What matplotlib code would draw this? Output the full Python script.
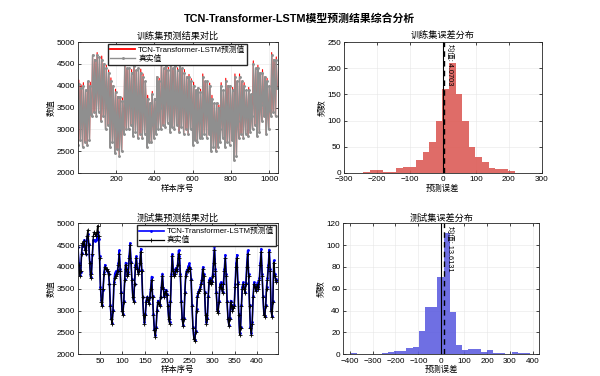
import matplotlib
matplotlib.use("Agg")
import matplotlib.pyplot as plt
import numpy as np

plt.rcParams.update({
    "font.family": ["Liberation Sans", "Noto Sans CJK SC"],
    "font.size": 6,
    "axes.linewidth": 0.6,
    "xtick.direction": "in",
    "ytick.direction": "in",
    "xtick.major.size": 2,
    "ytick.major.size": 2,
    "xtick.major.width": 0.5,
    "ytick.major.width": 0.5,
})

# ---- training set (one value every 4 samples, one row per day) ----
train_true = [
    2650, 4050, 3350, 2750, 3950, 3300,
    2600, 4000, 3300, 2700, 3900, 3250,
    2650, 4100, 3400, 2750, 4000, 3350,
    3300, 4700, 4000, 3400, 4600, 3950,
    3300, 4700, 4000, 3400, 4650, 3950,
    3200, 4600, 3900, 3300, 4500, 3850,
    3000, 4400, 3700, 3100, 4300, 3650,
    2600, 4100, 3350, 2700, 4000, 3300,
    2450, 3850, 3150, 2550, 3750, 3100,
    2400, 3750, 3100, 2500, 3650, 3050,
    2900, 4500, 3700, 3000, 4400, 3650,
    3000, 4400, 3700, 3100, 4300, 3650,
    2850, 4450, 3650, 2950, 4350, 3600,
    2800, 4400, 3600, 2900, 4300, 3550,
    2800, 4200, 3500, 2900, 4100, 3450,
    2600, 3700, 3150, 2700, 3600, 3100,
    2700, 3800, 3250, 2800, 3700, 3200,
    2900, 4200, 3550, 3000, 4100, 3500,
    3000, 4500, 3750, 3100, 4400, 3700,
    3050, 4450, 3750, 3150, 4350, 3700,
    2950, 4500, 3700, 3050, 4400, 3650,
    3000, 4450, 3700, 3100, 4350, 3650,
    2950, 4500, 3700, 3050, 4400, 3650,
    2900, 4300, 3600, 3000, 4200, 3550,
    2900, 4200, 3550, 3000, 4100, 3500,
    2650, 4000, 3300, 2750, 3900, 3250,
    2700, 3950, 3300, 2800, 3850, 3250,
    2800, 4200, 3500, 2900, 4100, 3450,
    2800, 4100, 3450, 2900, 4000, 3400,
    2500, 3700, 3100, 2600, 3600, 3050,
    2500, 3600, 3050, 2600, 3500, 3000,
    2700, 4000, 3350, 2800, 3900, 3300,
    2600, 4100, 3350, 2700, 4000, 3300,
    2650, 4000, 3300, 2750, 3900, 3250,
    2300, 4200, 3250, 2400, 4100, 3200,
    2800, 4200, 3500, 2900, 4100, 3450,
    2800, 4000, 3400, 2900, 3900, 3350,
    2850, 3900, 3350, 2950, 3800, 3300,
    3000, 4500, 3750, 3100, 4400, 3700,
    2850, 4400, 3600, 2950, 4300, 3550,
    3200, 4300, 3750, 3300, 4200, 3700,
    2900, 4100, 3500, 3000, 4000, 3450,
    3300, 4700, 4000, 3400, 4600, 3950,
    3300, 4600, 3950,
]
train_pred = [
    2650, 4130, 3350, 2750, 4020, 3300,
    2600, 4070, 3300, 2700, 3900, 3250,
    2650, 4100, 3400, 2750, 4080, 3350,
    3300, 4700, 4000, 3400, 4600, 3950,
    3300, 4760, 4000, 3400, 4650, 3950,
    3200, 4680, 3900, 3300, 4500, 3850,
    3000, 4470, 3700, 3100, 4360, 3650,
    2600, 4180, 3350, 2700, 4000, 3300,
    2450, 3920, 3150, 2550, 3750, 3100,
    2400, 3750, 3100, 2500, 3720, 3050,
    2900, 4580, 3700, 3000, 4400, 3650,
    3000, 4400, 3700, 3100, 4370, 3650,
    2850, 4520, 3650, 2950, 4350, 3600,
    2800, 4400, 3600, 2900, 4380, 3550,
    2800, 4270, 3500, 2900, 4100, 3450,
    2600, 3780, 3150, 2700, 3600, 3100,
    2700, 3870, 3250, 2800, 3700, 3200,
    2900, 4200, 3550, 3000, 4170, 3500,
    3000, 4560, 3750, 3100, 4400, 3700,
    3050, 4450, 3750, 3150, 4420, 3700,
    2950, 4570, 3700, 3050, 4400, 3650,
    3000, 4450, 3700, 3100, 4410, 3650,
    2950, 4560, 3700, 3050, 4400, 3650,
    2900, 4370, 3600, 3000, 4200, 3550,
    2900, 4260, 3550, 3000, 4160, 3500,
    2650, 4080, 3300, 2750, 3900, 3250,
    2700, 3950, 3300, 2800, 3920, 3250,
    2800, 4270, 3500, 2900, 4100, 3450,
    2800, 4100, 3450, 2900, 4060, 3400,
    2500, 3780, 3100, 2600, 3600, 3050,
    2500, 3600, 3050, 2600, 3560, 3000,
    2700, 4070, 3350, 2800, 3900, 3300,
    2600, 4170, 3350, 2700, 4000, 3300,
    2650, 4000, 3300, 2750, 3960, 3250,
    2300, 4270, 3250, 2400, 4100, 3200,
    2800, 4270, 3500, 2900, 4100, 3450,
    2800, 4070, 3400, 2900, 3900, 3350,
    2850, 3960, 3350, 2950, 3800, 3300,
    3000, 4570, 3750, 3100, 4400, 3700,
    2850, 4470, 3600, 2950, 4300, 3550,
    3200, 4370, 3750, 3300, 4200, 3700,
    2900, 4170, 3500, 3000, 4000, 3450,
    3300, 4760, 4000, 3400, 4600, 3950,
    3300, 4660, 3950,
]

# ---- test set (one value every 2 samples) ----
test_true = [
    4450, 4050, 3800, 3900, 4300, 4550, 4500, 4600, 4400, 4300,
    4700, 4850, 4500, 4100, 3750, 3850, 4300, 4700, 4800, 4750,
    4700, 4800, 4950, 4700, 4200, 3500, 3200, 3100, 3500, 3850,
    4000, 3950, 3950, 3900, 3850, 3600, 3100, 2800, 2700, 3000,
    3600, 3750, 3800, 3850, 3900, 4050, 4300, 3900, 3400, 3000,
    2900, 3200, 3700, 4050, 3950, 3800, 3850, 4200, 4500, 4100,
    3700, 3300, 3200, 3600, 4000, 4200, 3950, 3850, 3900, 4100,
    4350, 3900, 3300, 2900, 2700, 2900, 3200, 3300, 3250, 3150,
    3300, 3500, 3700, 3300, 2900, 2550, 2400, 2600, 3000, 3200,
    3150, 3100, 3300, 3550, 3800, 3500, 3300, 3400, 3450, 3350,
    3100, 2800, 2700, 3200, 3800, 4250, 3900, 3800, 3850, 3950,
    3900, 4050, 4300, 4200, 3800, 3200, 2800, 2650, 2800, 3400,
    3800, 3900, 3900, 3950, 4000, 3950, 3700, 3100, 2600, 2350,
    2300, 2500, 3000, 3300, 3400, 3450, 3500, 3600, 3700, 3950,
    3800, 3400, 2900, 2700, 2800, 3300, 3650, 3700, 3600, 3650,
    3800, 4100, 4400, 3900, 3400, 3000, 2950, 3200, 3550, 3600,
    3500, 3400, 3600, 3900, 4200, 3800, 3200, 2800, 2650, 2800,
    3200, 3100, 3000, 3050, 3100, 3550, 4000, 4200, 3600, 2900,
    2450, 2600, 3100, 3500, 3600, 3500, 3400, 3600, 4000, 4300,
    3800, 3100, 2600, 2450, 2700, 3300, 3600, 3550, 3450, 3550,
    3600, 3500, 3700, 4050, 4350, 3800, 3300, 2900, 2850, 3100,
    3500, 3700, 4000, 4350, 3900, 3000, 2850, 3200, 4100, 3800,
    3700, 3650,
]
test_pred = [
    4450, 4080, 3820, 3880, 4320, 4500, 4480, 4620, 4420, 4300,
    4650, 4750, 4520, 4120, 3780, 3870, 4280, 4620, 4620, 4600,
    4620, 4650, 4800, 4650, 4250, 3550, 3250, 3120, 3480, 3880,
    4050, 3950, 3930, 3880, 3850, 3620, 3120, 2830, 2720, 3020,
    3650, 3850, 3900, 3880, 3920, 4080, 4380, 3950, 3420, 3030,
    2920, 3220, 3720, 4100, 3980, 3820, 3880, 4250, 4550, 4120,
    3720, 3320, 3230, 3620, 4050, 4250, 3980, 3880, 3920, 4150,
    4420, 3920, 3320, 2920, 2730, 2920, 3230, 3320, 3270, 3180,
    3320, 3530, 3780, 3330, 2920, 2580, 2430, 2620, 3020, 3230,
    3180, 3120, 3320, 3580, 3850, 3520, 3330, 3420, 3480, 3380,
    3120, 2830, 2730, 3230, 3850, 4300, 3950, 3820, 3880, 3980,
    3950, 4080, 4380, 4250, 3830, 3230, 2830, 2680, 2830, 3430,
    3830, 3930, 3950, 4020, 4080, 3980, 3730, 3130, 2630, 2380,
    2330, 2530, 3030, 3330, 3430, 3480, 3530, 3630, 3750, 4000,
    3830, 3430, 2930, 2730, 2830, 3330, 3700, 3750, 3630, 3680,
    3850, 4180, 4480, 3950, 3430, 3030, 2980, 3230, 3600, 3650,
    3530, 3430, 3630, 3950, 4280, 3850, 3230, 2830, 2680, 2830,
    3230, 3130, 3030, 3080, 3130, 3600, 4080, 4280, 3650, 2930,
    2480, 2630, 3130, 3550, 3650, 3530, 3430, 3630, 4080, 4380,
    3830, 3130, 2630, 2480, 2730, 3330, 3650, 3580, 3480, 3580,
    3650, 3530, 3750, 4100, 4420, 3850, 3330, 2930, 2880, 3130,
    3550, 3750, 4050, 4400, 3950, 3030, 2880, 3230, 4150, 3830,
    3730, 3680,
]

# ---- error histograms (bin edges and counts) ----
train_edges = [-241, -221, -201, -181, -161, -141, -121, -101, -81, -61, -41, -21, -1,
               19, 39, 59, 79, 99, 119, 139, 159, 179, 199, 219]
train_counts = [1, 5, 5, 1, 1, 10, 11, 12, 25, 40, 60, 100, 160,
                210, 150, 100, 50, 30, 20, 10, 7, 7, 3]
test_edges = [-395, -368, -341, -314, -287, -260, -233, -206, -179, -152, -125, -98, -71, -44, -17,
              10, 37, 64, 91, 118, 145, 172, 199, 226, 253, 280, 307, 334, 361, 388]
test_counts = [1, 0, 0, 0, 0, 1, 2, 3, 3, 6, 7, 21, 43, 43, 71,
               111, 39, 8, 4, 5, 5, 2, 4, 1, 1, 0, 2, 1, 1]
train_mean = 4.0703
test_mean = 13.6131

train_x = np.arange(1, 4 * len(train_true) + 1, 4)
test_x = np.arange(1, 2 * len(test_true) + 1, 2)

TITLE_FS = 6.6
LABEL_FS = 6
TICK_FS = 5.9
LEG_FS = 5.6

fig = plt.figure(figsize=(6.0, 3.76), dpi=100)
fig.patch.set_facecolor("white")
fig.text(0.5, 0.95, "TCN-Transformer-LSTM模型预测结果综合分析", ha="center", va="center",
         fontsize=7.8, fontweight="bold")

ax1 = fig.add_axes([0.130, 0.540, 0.333, 0.348])
ax2 = fig.add_axes([0.573, 0.540, 0.330, 0.348])
ax3 = fig.add_axes([0.130, 0.058, 0.333, 0.348])
ax4 = fig.add_axes([0.572, 0.058, 0.327, 0.348])


def style(ax):
    ax.grid(True, color="#e6e6e6", linewidth=0.4)
    ax.set_axisbelow(True)
    ax.tick_params(labelsize=TICK_FS, top=True, right=True)
    ax.tick_params(axis="x", pad=2.5)
    ax.tick_params(axis="y", pad=2)
    for s in ax.spines.values():
        s.set_color("#262626")


def legend(ax, loc):
    ax.legend(loc=loc, fontsize=LEG_FS, frameon=True, fancybox=False, edgecolor="#262626",
              framealpha=1, borderpad=0.25, handlelength=3.2, handletextpad=0.4,
              labelspacing=0.15, borderaxespad=0.25)


# training prediction
ax1.plot(train_x, train_pred, color="#ff0000", lw=0.8, label="TCN-Transformer-LSTM预测值")
ax1.plot(train_x, train_true, color="#8f8f8f", lw=1.0, marker=".", ms=2.2, label="真实值")
ax1.set_xlim(1, 1045)
ax1.set_ylim(2000, 5000)
ax1.set_xticks([200, 400, 600, 800, 1000])
ax1.set_yticks(np.arange(2000, 5001, 500))
ax1.set_title("训练集预测结果对比", fontsize=TITLE_FS, pad=2)
ax1.set_xlabel("样本序号", fontsize=LABEL_FS, labelpad=1)
ax1.set_ylabel("数值", fontsize=LABEL_FS, labelpad=1)
leg1 = ax1.legend(loc="upper center", fontsize=LEG_FS, frameon=True, fancybox=False,
                  edgecolor="#262626", framealpha=1, borderpad=0.25, handlelength=3.2,
                  handletextpad=0.4, labelspacing=0.15, borderaxespad=0.25)
leg1.get_lines()[0].set_linewidth(1.3)
style(ax1)

# training error histogram
ax2.stairs(train_counts, train_edges, fill=True, color="#dc5c57", alpha=0.9)
ax2.axvline(0, color="black", lw=0.8)
ax2.axvline(train_mean, color="black", lw=1.0, ls=(0, (4, 3)))
ax2.text(train_mean + 5, 246, f"均值: {train_mean:.4f}", rotation=-90, ha="left", va="top",
         fontsize=5.3)
ax2.set_xlim(-300, 300)
ax2.set_ylim(0, 250)
ax2.set_xticks(np.arange(-300, 301, 100))
ax2.set_yticks(np.arange(0, 251, 50))
ax2.set_title("训练集误差分布", fontsize=TITLE_FS, pad=2)
ax2.set_xlabel("预测误差", fontsize=LABEL_FS, labelpad=1)
ax2.set_ylabel("频数", fontsize=LABEL_FS, labelpad=1)
style(ax2)

# test prediction
ax3.plot(test_x, test_pred, color="#0000ff", lw=1.2, marker=".", ms=2,
         label="TCN-Transformer-LSTM预测值")
ax3.plot(test_x, test_true, color="black", lw=0.9, marker="+", ms=2.8, mew=0.6, label="真实值")
ax3.set_xlim(1, 446)
ax3.set_ylim(2000, 5000)
ax3.set_xticks(np.arange(50, 401, 50))
ax3.set_yticks(np.arange(2000, 5001, 500))
ax3.set_title("测试集预测结果对比", fontsize=TITLE_FS, pad=2)
ax3.set_xlabel("样本序号", fontsize=LABEL_FS, labelpad=1)
ax3.set_ylabel("数值", fontsize=LABEL_FS, labelpad=1)
legend(ax3, "upper right")
style(ax3)

# test error histogram
ax4.stairs(test_counts, test_edges, fill=True, color="#5f5fe0", alpha=0.9)
ax4.axvline(0, color="black", lw=0.8)
ax4.axvline(test_mean, color="black", lw=1.0, ls=(0, (4, 3)))
ax4.text(test_mean + 7, 118, f"均值: {test_mean:.4f}", rotation=-90, ha="left", va="top",
         fontsize=5.3)
ax4.set_xlim(-428, 428)
ax4.set_ylim(0, 120)
ax4.set_xticks(np.arange(-400, 401, 100))
ax4.set_yticks(np.arange(0, 121, 20))
ax4.set_title("测试集误差分布", fontsize=TITLE_FS, pad=2)
ax4.set_xlabel("预测误差", fontsize=LABEL_FS, labelpad=1)
ax4.set_ylabel("频数", fontsize=LABEL_FS, labelpad=1)
style(ax4)

fig.savefig("out.png", dpi=100)
